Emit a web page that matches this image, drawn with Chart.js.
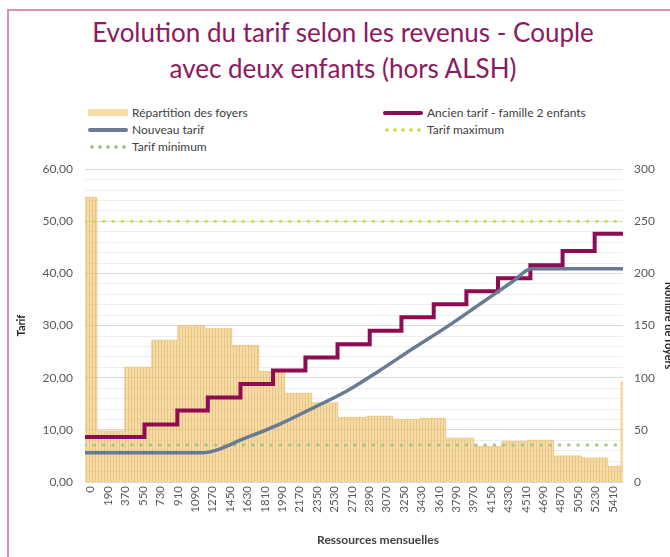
<!DOCTYPE html>
<html lang="fr">
<head>
<meta charset="utf-8">
<title>Evolution du tarif selon les revenus</title>
<script src="https://cdn.jsdelivr.net/npm/chart.js@4.4.1/dist/chart.umd.min.js"></script>
<style>
    html, body { margin: 0; padding: 0; background: #ffffff; }
    body { width: 670px; height: 557px; overflow: hidden; position: relative; font-family: Lato, 'Open Sans', sans-serif; }
    #frame { position: absolute; left: 7px; top: 9px; width: 720px; height: 600px; border-left: 2px solid #d690bd; border-top: 2px solid #d690bd; }
    #title { position: absolute; left: 0; top: 14px; width: 686px; text-align: center; color: #8c1a5e; font-size: 26px; line-height: 36px; }
    #legend { position: absolute; left: 88px; top: 104px; display: grid; grid-template-columns: 295px 300px; font-size: 12px; color: #404040; }
    .item { display: flex; align-items: center; height: 17px; white-space: nowrap; }
    .sw { width: 40px; height: 6px; margin-right: 4px; flex: none; }
    #chartBox { position: absolute; left: 0; top: 150px; width: 690px; height: 407px; }
</style>
</head>
<body>
<div id="frame"></div>
<div id="title">Evolution du tarif selon les revenus - Couple<br>avec deux enfants (hors ALSH)</div>
<div id="legend"></div>
<div id="chartBox"><canvas id="tarifChart"></canvas></div>
<script>
// Ressources mensuelles (euros) shown on the x axis
const xTickLabels = [0, 190, 370, 550, 730, 910, 1090, 1270, 1450, 1630, 1810, 1990, 2170, 2350,
    2530, 2710, 2890, 3070, 3250, 3430, 3610, 3790, 3970, 4150, 4330, 4510, 4690, 4870, 5050, 5230, 5410];
const resMin = -50;
const resMax = 5515;

// Répartition des foyers : start of each income bracket and number of households
const histStart = [-50, 72, 362, 641, 910, 1189, 1468, 1747, 2016, 2295, 2564, 2864, 3133, 3412,
    3681, 3971, 4260, 4529, 4798, 5087, 5356, 5495];
const histCount = [273, 49, 110, 136, 150, 147, 131, 106, 85, 76, 62, 63, 60, 61,
    42, 34, 39, 40, 25, 23, 15, 96];

// Ancien tarif - famille 2 enfants (steps)
const oldStart = [-50, 565, 905, 1220, 1558, 1895, 2230, 2562, 2895, 3223, 3557, 3895, 4222, 4557, 4890, 5222];
const oldTarif = [8.65, 11.05, 13.7, 16.2, 18.8, 21.4, 23.9, 26.4, 29.0, 31.6, 34.1, 36.6, 39.1, 41.6, 44.3, 47.6];

// Nouveau tarif
const newRes = [-50, 1155, 1620, 1965, 2309, 2654, 2999, 3343, 3688, 4033, 4377, 4567, 5515];
const newTarif = [5.6, 5.6, 8.5, 11.1, 14.2, 17.4, 21.4, 25.6, 29.7, 34.1, 38.5, 40.9, 40.9];

const tarifMax = 50;
const tarifMin = 7.1;

const tickFont = { family: 'Lato', size: 12 };
const tickColor = '#595959';

function points(xs, ys) {
    return xs.map((x, i) => ({ x: x, y: ys[i] }));
}

// a step line needs one extra point to close the last step at the axis end
function stepPoints(xs, ys) {
    const p = points(xs, ys);
    p.push({ x: resMax, y: ys[ys.length - 1] });
    return p;
}

// striped fill used by Excel-like histogram
function stripes() {
    const c = document.createElement('canvas');
    c.width = 3;
    c.height = 4;
    const g = c.getContext('2d');
    g.fillStyle = 'rgba(240, 196, 110, 0.6)';
    g.fillRect(0, 0, 3, 4);
    g.fillStyle = 'rgba(222, 170, 80, 0.45)';
    g.fillRect(2, 0, 1, 4);
    return g.createPattern(c, 'repeat');
}

const axisNames = {
    id: 'axisNames',
    afterDraw(chart) {
        const ctx = chart.ctx;
        ctx.save();
        ctx.font = "bold 12px Lato";
        ctx.fillStyle = '#404040';
        ctx.textAlign = 'center';
        ctx.textBaseline = 'middle';
        ctx.fillText('Ressources mensuelles', 378, chart.height - 17);
        ctx.restore();
    }
};

const chart = new Chart(document.getElementById('tarifChart'), {
    type: 'line',
    data: {
        datasets: [{
            label: 'Répartition des foyers',
            data: stepPoints(histStart, histCount),
            yAxisID: 'yFoyers',
            stepped: 'before',
            fill: 'origin',
            backgroundColor: stripes(),
            borderColor: 'rgba(236, 196, 120, 0.8)',
            borderWidth: 1,
            pointRadius: 0,
            legendColor: '#f7dca6',
            order: 5
        }, {
            label: 'Ancien tarif - famille 2 enfants',
            data: stepPoints(oldStart, oldTarif),
            yAxisID: 'yTarif',
            stepped: 'before',
            fill: false,
            borderColor: '#8e0c52',
            borderWidth: 4,
            borderJoinStyle: 'miter',
            pointRadius: 0,
            order: 2
        }, {
            label: 'Nouveau tarif',
            data: points(newRes, newTarif),
            yAxisID: 'yTarif',
            cubicInterpolationMode: 'monotone',
            fill: false,
            borderColor: '#687a94',
            borderWidth: 3.5,
            pointRadius: 0,
            order: 1
        }, {
            label: 'Tarif maximum',
            data: points([resMin, resMax], [tarifMax, tarifMax]),
            yAxisID: 'yTarif',
            fill: false,
            borderColor: '#d2db55',
            borderWidth: 3.2,
            borderDash: [0.5, 8.8],
            borderCapStyle: 'round',
            pointRadius: 0,
            order: 3
        }, {
            label: 'Tarif minimum',
            data: points([resMin, resMax], [tarifMin, tarifMin]),
            yAxisID: 'yTarif',
            fill: false,
            borderColor: '#a6c784',
            borderWidth: 3.2,
            borderDash: [0.5, 8.8],
            borderCapStyle: 'round',
            pointRadius: 0,
            order: 4
        }]
    },
    options: {
        responsive: true,
        maintainAspectRatio: false,
        animation: false,
        layout: { padding: { top: 15, left: 0, right: 0, bottom: 0 } },
        plugins: {
            legend: { display: false },
            tooltip: { enabled: false }
        },
        scales: {
            x: {
                type: 'linear',
                min: resMin,
                max: resMax,
                grid: { display: false, drawTicks: false },
                border: { display: false },
                afterBuildTicks: function(scale) {
                    scale.ticks = xTickLabels.map(v => ({ value: v }));
                },
                afterFit: function(scale) { scale.height = 75; },
                ticks: {
                    autoSkip: false,
                    minRotation: 90,
                    maxRotation: 90,
                    padding: 4,
                    color: tickColor,
                    font: { family: 'Lato', size: 11.5 },
                    callback: function(value) { return String(value); }
                }
            },
            yTarif: {
                position: 'left',
                min: 0,
                max: 60,
                border: { display: false },
                afterFit: function(scale) { scale.width = 85; },
                grid: {
                    drawTicks: false,
                    color: function(c) { return c.tick.value % 10 === 0 ? '#d9d9d9' : '#eeeeee'; }
                },
                ticks: {
                    stepSize: 2,
                    autoSkip: false,
                    padding: 12,
                    color: tickColor,
                    font: tickFont,
                    callback: function(value) {
                        return value % 10 === 0 ? value.toFixed(2).replace('.', ',') : '';
                    }
                },
                title: {
                    display: true,
                    text: 'Tarif',
                    color: '#262626',
                    font: { family: 'Lato', size: 11, weight: 'bold' },
                    padding: { top: 15, bottom: 0 }
                }
            },
            yFoyers: {
                position: 'right',
                min: 0,
                max: 300,
                border: { display: false },
                afterFit: function(scale) { scale.width = 67; },
                grid: { display: false, drawTicks: false },
                ticks: {
                    stepSize: 50,
                    padding: 11,
                    color: tickColor,
                    font: tickFont
                },
                title: {
                    display: true,
                    text: 'Nombre de foyers',
                    color: '#262626',
                    font: { family: 'Lato', size: 11, weight: 'bold' },
                    padding: { top: 15, bottom: 0 }
                }
            }
        }
    },
    plugins: [axisNames]
});

// Two-column legend like the spreadsheet one
const legend = document.getElementById('legend');
chart.data.datasets.forEach(function(ds) {
    const item = document.createElement('div');
    item.className = 'item';
    const sw = document.createElement('span');
    sw.className = 'sw';
    if (ds.fill) {
        sw.style.background = ds.legendColor;
        sw.style.height = '7px';
    } else if (ds.borderDash) {
        sw.style.background = 'radial-gradient(circle, ' + ds.borderColor + ' 1.5px, transparent 2px) 0 0 / 8px 6px repeat-x';
    } else {
        sw.style.background = ds.borderColor;
        sw.style.height = '4px';
        sw.style.borderRadius = '2px';
    }
    const txt = document.createElement('span');
    txt.textContent = ds.label;
    item.appendChild(sw);
    item.appendChild(txt);
    legend.appendChild(item);
});
</script>
</body>
</html>
